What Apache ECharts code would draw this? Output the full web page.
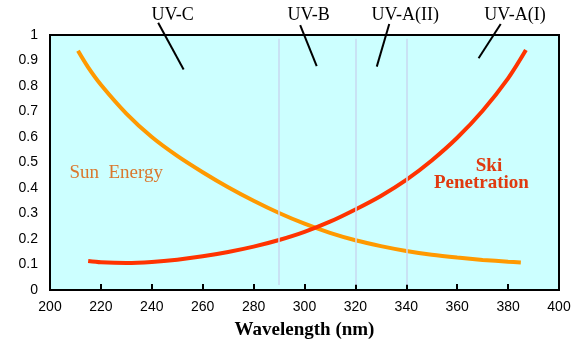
<!DOCTYPE html>
<html>
<head>
<meta charset="utf-8">
<script src="https://cdn.jsdelivr.net/npm/echarts@6/dist/echarts.min.js"></script>
<style>
html,body{margin:0;padding:0;background:#fff;}
#c{width:587px;height:351px;}
</style>
</head>
<body>
<div id="c"></div>
<script>
// Sun Energy curve (wavelength nm, relative value)
var sunX = [211, 215, 220, 230, 240, 250, 260, 270, 280, 290, 300, 310, 320, 330, 340, 350, 360, 370, 380, 385];
var sunY = [0.938, 0.873, 0.805, 0.692, 0.600, 0.526, 0.462, 0.403, 0.350, 0.302, 0.260, 0.224, 0.195, 0.172, 0.153, 0.138, 0.127, 0.118, 0.111, 0.108];
// Skin penetration curve
var skinX = [215, 220, 230, 240, 250, 260, 270, 280, 290, 300, 310, 320, 330, 340, 350, 360, 370, 380, 387];
var skinY = [0.114, 0.109, 0.106, 0.110, 0.119, 0.132, 0.149, 0.170, 0.196, 0.228, 0.268, 0.316, 0.369, 0.432, 0.508, 0.597, 0.703, 0.830, 0.941];
// Band boundaries
var bandLines = [290, 320, 340];
// Band labels with leader lines
var bandNames = ['UV-C', 'UV-B', 'UV-A(II)', 'UV-A(I)'];
var bandTextX = [248.2, 301.6, 339.6, 382.7];
var bandTextY = [1.078, 1.078, 1.078, 1.078];
var leadFromX = [242.5, 298.3, 333.3, 377.1];
var leadFromY = [1.048, 1.039, 1.043, 1.043];
var leadToX = [252.5, 304.8, 328.4, 368.4];
var leadToY = [0.865, 0.878, 0.876, 0.909];
// X / Y ticks
var xMin = 200, xMax = 400, xStep = 20;
var yMin = 0, yMax = 1, yStep = 0.1;

function zip(a, b) { return a.map(function (v, i) { return [v, b[i]]; }); }

var chart = echarts.init(document.getElementById('c'), null, {renderer: 'canvas'});
var option = {
  animation: false,
  grid: {left: 50, right: 28, top: 35, bottom: 61, show: true, backgroundColor: '#CCFFFF', borderColor: '#000', borderWidth: 2},
  xAxis: {
    type: 'value', min: xMin, max: xMax, interval: xStep,
    name: 'Wavelength (nm)', nameLocation: 'middle', nameGap: 31,
    nameTextStyle: {fontFamily: 'Liberation Serif', fontWeight: 'bold', fontSize: 19, color: '#000'},
    axisLine: {lineStyle: {color: '#000', width: 2}},
    axisTick: {inside: true, length: 6, lineStyle: {color: '#000', width: 2}},
    axisLabel: {fontFamily: 'Liberation Sans', fontSize: 14, color: '#000', margin: 10},
    splitLine: {show: false}
  },
  yAxis: {
    type: 'value', min: yMin, max: yMax, interval: yStep,
    axisLine: {show: true, lineStyle: {color: '#000', width: 2}},
    axisTick: {show: false},
    axisLabel: {fontFamily: 'Liberation Sans', fontSize: 14, color: '#000', margin: 12},
    splitLine: {show: false}
  },
  series: [
    {
      type: 'line', data: [], silent: true,
      markLine: {
        symbol: 'none', silent: true, label: {show: false},
        lineStyle: {color: '#C8D8F0', width: 1.5, type: 'solid'},
        data: bandLines.map(function (x) { return [{coord: [x, 0.02]}, {coord: [x, 0.985]}]; })
      }
    },
    {
      name: 'Sun Energy', type: 'line', smooth: 0.3, showSymbol: false, symbol: 'none',
      data: zip(sunX, sunY), lineStyle: {color: '#FF9900', width: 4}
    },
    {
      name: 'Skin Penetration', type: 'line', smooth: 0.3, showSymbol: false, symbol: 'none',
      data: zip(skinX, skinY), lineStyle: {color: '#FF3300', width: 4}
    }
  ]
};
chart.setOption(option);

function px(x, y) { return chart.convertToPixel({gridIndex: 0}, [x, y]); }
var g = [];
for (var i = 0; i < bandNames.length; i++) {
  var t = px(bandTextX[i], bandTextY[i]);
  var a = px(leadFromX[i], leadFromY[i]);
  var b = px(leadToX[i], leadToY[i]);
  g.push({type: 'line', shape: {x1: a[0], y1: a[1], x2: b[0], y2: b[1]}, style: {stroke: '#000', lineWidth: 2}, z: 100});
  g.push({type: 'text', x: t[0], y: t[1], style: {text: bandNames[i], fill: '#000', font: '18px "Liberation Serif"', textAlign: 'center', textVerticalAlign: 'middle'}, z: 101});
}
var s = px(226, 0.46);
g.push({type: 'text', x: s[0], y: s[1], style: {text: 'Sun  Energy', fill: '#DA782E', font: '19px "Liberation Serif"', textAlign: 'center', textVerticalAlign: 'middle'}, z: 101});
var k1 = px(372.5, 0.485), k2 = px(369.5, 0.42);
g.push({type: 'text', x: k1[0], y: k1[1], style: {text: 'Ski', fill: '#E03A10', font: 'bold 19px "Liberation Serif"', textAlign: 'center', textVerticalAlign: 'middle'}, z: 101});
g.push({type: 'text', x: k2[0], y: k2[1], style: {text: 'Penetration', fill: '#E03A10', font: 'bold 19px "Liberation Serif"', textAlign: 'center', textVerticalAlign: 'middle'}, z: 101});
chart.setOption({graphic: g});
</script>
</body>
</html>
